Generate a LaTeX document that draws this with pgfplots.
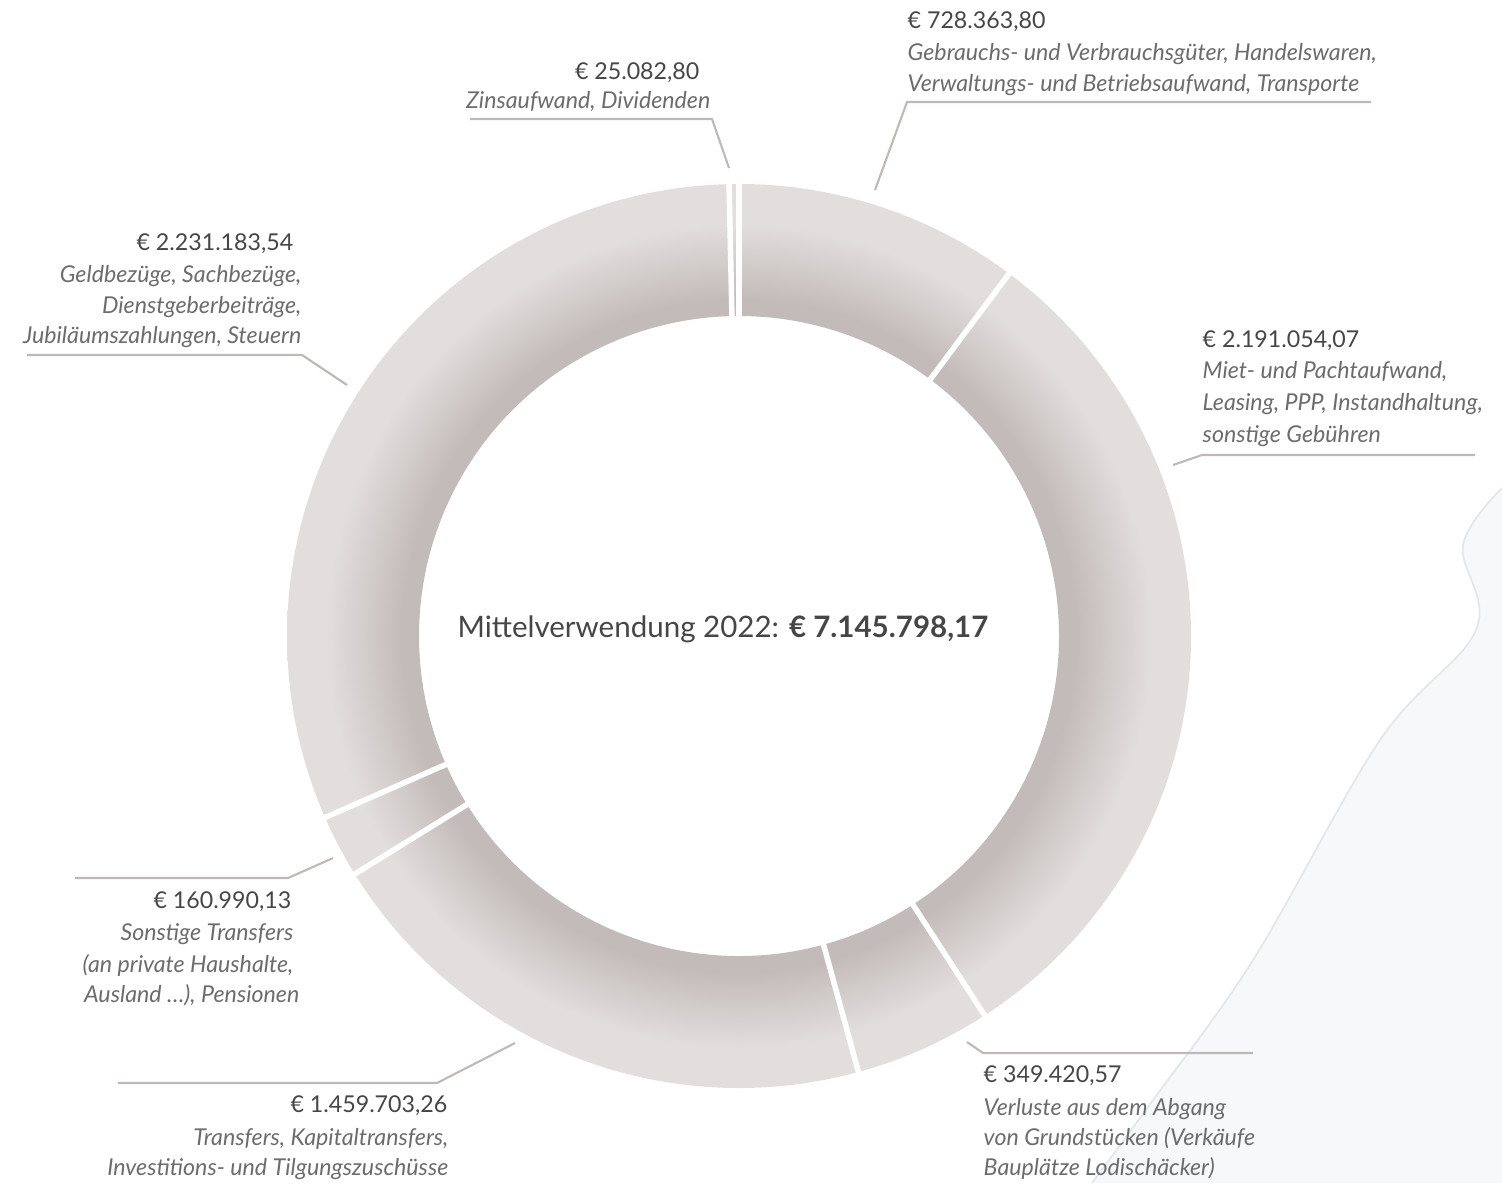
\documentclass[border=0pt]{standalone}
\usepackage{pgfplots}
\pgfplotsset{compat=1.18}
\usepackage{pgfplotstable}
\usepackage{fontspec}
\setmainfont{Lato}
\definecolor{ringlight}{RGB}{226,222,221}
\definecolor{ringdark}{RGB}{195,187,186}
\definecolor{amtc}{RGB}{70,70,70}
\definecolor{descc}{RGB}{108,108,108}
\definecolor{leader}{RGB}{192,184,183}
\definecolor{bgfill}{RGB}{247,248,250}
\definecolor{bgline}{RGB}{229,230,233}
% the 50bp x 50bp centre square of a shading is stretched to the path: radius 25bp = outer radius
\pgfdeclareradialshading{ring}{\pgfpoint{0bp}{0bp}}{color(0bp)=(ringdark); color(17.5bp)=(ringdark); color(18.6bp)=(ringdark); color(22.8bp)=(ringlight); color(25bp)=(ringlight); color(50bp)=(ringlight)}

\pgfplotstableread{
v
728363.80
2191054.07
349420.57
1459703.26
160990.13
2231183.54
25082.80
}\slicetable

\newcommand\amtfont{\fontsize{6.6}{8}\selectfont}
\newcommand\descfont{\fontsize{6.6}{8}\selectfont\itshape}
\newcommand\amtL[3]{\node[anchor=base west, inner sep=0pt, font=\amtfont, text=amtc] at (axis cs:#1,#2) {#3};}
\newcommand\amtR[3]{\node[anchor=base east, inner sep=0pt, font=\amtfont, text=amtc] at (axis cs:#1,#2) {#3};}
\newcommand\dscL[3]{\node[anchor=base west, inner sep=0pt, font=\descfont, text=descc] at (axis cs:#1,#2) {#3};}
\newcommand\dscR[3]{\node[anchor=base east, inner sep=0pt, font=\descfont, text=descc] at (axis cs:#1,#2) {#3};}

\begin{document}
\begin{tikzpicture}
% cumulative sums and slice angles (clockwise from the top)
\xdef\cumsum{0}
\foreach \i in {0,...,6}{%
  \pgfplotstablegetelem{\i}{v}\of\slicetable
  \xdef\cumsum{\fpeval{\cumsum+\pgfplotsretval}}%
  \expandafter\xdef\csname cum\i\endcsname{\cumsum}%
}
\xdef\total{\cumsum}
\xdef\prevang{90}
\foreach \i in {0,...,6}{%
  \expandafter\xdef\csname s\i\endcsname{\prevang}%
  \xdef\prevang{\fpeval{90-360*\csname cum\i\endcsname/\total}}%
  \expandafter\xdef\csname e\i\endcsname{\prevang}%
}
\begin{axis}[
  scale only axis, width=15.02cm, height=11.83cm,
  xmin=0, xmax=1502, ymin=0, ymax=1183, y dir=reverse,
  hide axis, clip=false]
\coordinate (bbA) at (axis cs:0,1183);
\coordinate (bbB) at (axis cs:1502,0);

% background decoration
\fill[bgfill] plot[smooth, tension=0.6] coordinates {(1502,488) (1463,545) (1476,630) (1380,740) (1253,960) (1153,1100) (1092,1183)} -- (1502,1183) -- cycle;
\draw[bgline, line width=0.5pt] plot[smooth, tension=0.6] coordinates {(1502,488) (1463,545) (1476,630) (1380,740) (1253,960) (1153,1100) (1092,1183)};

% donut slices
\pgfplotsinvokeforeach{0,...,6}{
  \begin{scope}
    \clip (axis cs:739,636) ++(\csname s#1\endcsname:45.2mm)
      arc[start angle=\csname s#1\endcsname, end angle=\csname e#1\endcsname, radius=45.2mm]
      -- ++(\csname e#1\endcsname:-13.2mm)
      arc[start angle=\csname e#1\endcsname, end angle=\csname s#1\endcsname, radius=32mm] -- cycle;
    \shade[shading=ring] (axis cs:739,636) circle[radius=45.2mm];
  \end{scope}
}
\pgfplotsinvokeforeach{0,...,6}{
  \draw[white, line width=0.55mm] (axis cs:739,636) ++(\csname s#1\endcsname:31mm) -- ++(\csname s#1\endcsname:15.5mm);
}

% leader lines
\draw[leader, line width=0.6pt] (axis cs:470,119) -- (axis cs:712,119) -- (axis cs:729,168);
\draw[leader, line width=0.6pt] (axis cs:1371,102) -- (axis cs:907,102) -- (axis cs:875,190);
\draw[leader, line width=0.6pt] (axis cs:1475,455) -- (axis cs:1202,455) -- (axis cs:1173,465);
\draw[leader, line width=0.6pt] (axis cs:1253,1053) -- (axis cs:983,1053) -- (axis cs:967,1042);
\draw[leader, line width=0.6pt] (axis cs:118,1083) -- (axis cs:437,1083) -- (axis cs:515,1043);
\draw[leader, line width=0.6pt] (axis cs:75,878) -- (axis cs:288,878) -- (axis cs:333,858);
\draw[leader, line width=0.6pt] (axis cs:27,355) -- (axis cs:302,355) -- (axis cs:347,385);

% labels
\amtR{700}{79}{€ 25.082,80}
\dscR{711}{108}{Zinsaufwand, Dividenden}

\amtL{907}{28}{€ 728.363,80}
\dscL{907}{60}{Gebrauchs- und Verbrauchsgüter, Handelswaren,}
\dscL{907}{91}{Verwaltungs- und Betriebsaufwand, Transporte}

\amtL{1202}{347}{€ 2.191.054,07}
\dscL{1202}{378}{Miet- und Pachtaufwand,}
\dscL{1202}{410}{Leasing, PPP, Instandhaltung,}
\dscL{1202}{442}{sonstige Gebühren}

\amtL{983}{1082}{€ 349.420,57}
\dscL{983}{1115}{Verluste aus dem Abgang}
\dscL{983}{1145}{von Grundstücken (Verkäufe}
\dscL{983}{1175}{Bauplätze Lodischäcker)}

\amtR{448}{1112}{€ 1.459.703,26}
\dscR{449}{1145}{Transfers, Kapitaltransfers,}
\dscR{449}{1175}{Investitions- und Tilgungszuschüsse}

\amtR{292}{908}{€ 160.990,13}
\dscR{294}{940}{Sonstige Transfers}
\dscR{294}{972}{(an private Haushalte,}
\dscR{300}{1002}{Ausland …), Pensionen}

\amtR{294}{250}{€ 2.231.183,54}
\dscR{302}{282}{Geldbezüge, Sachbezüge,}
\dscR{302}{313}{Dienstgeberbeiträge,}
\dscR{302}{343}{Jubiläumszahlungen, Steuern}

\node[anchor=base, inner sep=0pt, font=\fontsize{8.4}{10}\selectfont, text=amtc] at (axis cs:723,637) {Mittelverwendung 2022: \textbf{€ 7.145.798,17}};
\end{axis}
\pgfresetboundingbox
\useasboundingbox (bbA) rectangle (bbB);
\end{tikzpicture}
\end{document}
